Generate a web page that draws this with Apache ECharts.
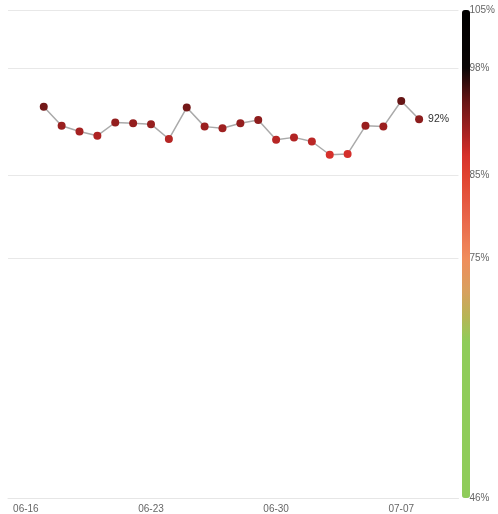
<!DOCTYPE html>
<html>
<head>
<meta charset="utf-8">
<script src="https://cdn.jsdelivr.net/npm/echarts@6/dist/echarts.min.js"></script>
<style>html,body{margin:0;padding:0;background:#fff}#c{width:498px;height:514px}</style>
</head>
<body>
<div id="c"></div>
<script>
// ---- data ----
var dates = ['06-17','06-18','06-19','06-20','06-21','06-22','06-23','06-24','06-25','06-26','06-27',
             '06-28','06-29','06-30','07-01','07-02','07-03','07-04','07-05','07-06','07-07','07-08'];
var values = [93.3, 91.0, 90.3, 89.8, 91.4, 91.3, 91.2, 89.4, 93.2, 90.9, 90.7,
              91.3, 91.7, 89.3, 89.6, 89.1, 87.5, 87.6, 91.0, 90.9, 94.0, 91.8];
var xTickLabels = ['06-16','06-23','06-30','07-07'];
var yTickValues = [46, 75, 85, 98, 105];
var yMin = 46, yMax = 105;
var baseDate = '06-16';
var year = 2024;

function dayIndex(s) {
  var p = s.split('-');
  var b = baseDate.split('-');
  return Math.round((Date.UTC(year, +p[0]-1, +p[1]) - Date.UTC(year, +b[0]-1, +b[1])) / 86400000);
}
var xTickValues = xTickLabels.map(dayIndex);
var labelByDay = {};
xTickLabels.forEach(function(l){ labelByDay[dayIndex(l)] = l; });

var seriesData = dates.map(function(d, i){
  var item = { value: [dayIndex(d), values[i]] };
  if (i === dates.length - 1) {
    item.label = { show: true, position: 'right', distance: 5, color: '#333', fontSize: 10.5,
      formatter: function(p){ return Math.round(p.value[1]) + '%'; } };
  }
  return item;
});

// colour ramp for the visual map (style)
var stops = [
  [46, '#8fcc5a'], [65, '#8fcc5a'], [68, '#b8b455'], [71, '#d8a05e'], [75, '#f08c5c'],
  [80, '#e8644a'], [85, '#e0422f'], [87.5, '#d6302b'], [90, '#aa2222'], [92, '#881c1c'],
  [94, '#661515'], [98, '#0a0505'], [105, '#000000']
];
function hex(c){ return [parseInt(c.substr(1,2),16),parseInt(c.substr(3,2),16),parseInt(c.substr(5,2),16)]; }
function colorAt(v){
  for (var i = 0; i < stops.length - 1; i++) {
    if (v <= stops[i+1][0]) {
      var t = (v - stops[i][0]) / (stops[i+1][0] - stops[i][0]);
      var a = hex(stops[i][1]), b = hex(stops[i+1][1]);
      return 'rgb(' + a.map(function(x,k){ return Math.round(x + (b[k]-x)*t); }).join(',') + ')';
    }
  }
  return stops[stops.length-1][1];
}
var ramp = [];
for (var v = yMin; v <= yMax + 1e-9; v += 0.5) ramp.push(colorAt(v));

var chart = echarts.init(document.getElementById('c'), null, {renderer: 'canvas'});
chart.setOption({
  animation: false,
  textStyle: { fontFamily: 'Liberation Sans, Arial, sans-serif' },
  grid: { left: 8, right: 36, top: 10, bottom: 16, containLabel: false },
  xAxis: {
    type: 'value', min: -1, max: 24.2,
    splitLine: { show: false },
    axisLine: { show: true, lineStyle: { color: '#e6e6e6', width: 1 } },
    axisTick: { show: false },
    axisLabel: { customValues: xTickValues, color: '#666', fontSize: 10, margin: 6,
      formatter: function(v){ return labelByDay[v] || ''; } }
  },
  yAxis: {
    type: 'value', position: 'right', min: yMin, max: yMax,
    axisLine: { show: false },
    axisTick: { show: false, customValues: yTickValues },
    splitLine: { show: true, lineStyle: { color: '#e8e8e8', width: 1 } },
    axisLabel: { customValues: yTickValues, color: '#666', fontSize: 10, margin: 11,
      formatter: function(v){ return v + '%'; } }
  },
  visualMap: {
    type: 'continuous', min: yMin, max: yMax, dimension: 1, seriesIndex: 0,
    calculable: false, hoverLink: false,
    left: 462, top: 10, padding: 0, itemWidth: 8, itemHeight: 488,
    inRange: { color: ramp }
  },
  series: [{
    type: 'line',
    data: seriesData,
    symbol: 'circle', symbolSize: 8,
    lineStyle: { color: '#aaa', width: 1.5 },
    itemStyle: { borderWidth: 0 }
  }]
});
</script>
</body>
</html>
